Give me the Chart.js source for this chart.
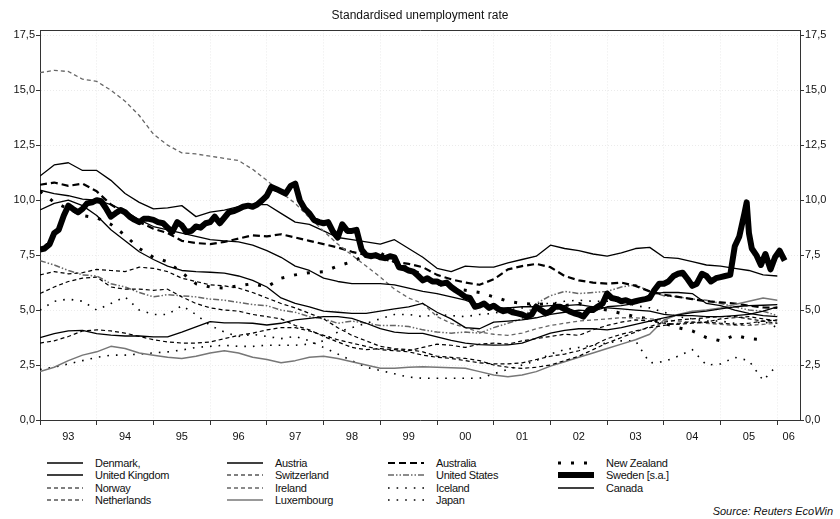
<!DOCTYPE html>
<html>
<head>
<meta charset="utf-8">
<title>Standardised unemployment rate</title>
<script src="https://cdn.jsdelivr.net/npm/chart.js@4.4.1/dist/chart.umd.min.js"></script>
<style>
  body { margin: 0; background: #fff; font-family: "Liberation Sans", Arial, sans-serif; }
  #wrap { position: relative; width: 840px; height: 519px; overflow: hidden; }
  #chart-box { position: absolute; left: 0; top: 0; width: 840px; height: 444px; }
  #legend .item { position: absolute; height: 12px; font-size: 11px; line-height: 12px; letter-spacing: -0.3px; color: #111; white-space: nowrap; }
  #legend svg { position: absolute; left: 0; top: 0; }
  #legend span { position: absolute; left: 48px; top: 0; }
  #source { position: absolute; right: 7px; top: 505px; font-size: 11px; font-style: italic; color: #111; }
</style>
</head>
<body>
<div id="wrap">
  <div id="chart-box"><canvas id="unemployment-chart"></canvas></div>
  <div id="legend"></div>
  <div id="source">Source: Reuters EcoWin</div>
</div>
<script>
/*
 * Standardised unemployment rate, 1993-2006
 */
const yearLabels = ['93', '94', '95', '96', '97', '98', '99', '00', '01', '02', '03', '04', '05', '06']
const yearStarts = [1993, 1994, 1995, 1996, 1997, 1998, 1999, 2000, 2001, 2002, 2003, 2004, 2005, 2006]
const yTickValues = [0, 2.5, 5, 7.5, 10, 12.5, 15, 17.5]
const yTickLabels = ['0,0', '2,5', '5,0', '7,5', '10,0', '12,5', '15,0', '17,5']

// quarterly dates, 1993 Q1 .. 2006 Q2
const quarters = [
  1993.00, 1993.25, 1993.50, 1993.75, 1994.00, 1994.25, 1994.50, 1994.75,
  1995.00, 1995.25, 1995.50, 1995.75, 1996.00, 1996.25, 1996.50, 1996.75,
  1997.00, 1997.25, 1997.50, 1997.75, 1998.00, 1998.25, 1998.50, 1998.75,
  1999.00, 1999.25, 1999.50, 1999.75, 2000.00, 2000.25, 2000.50, 2000.75,
  2001.00, 2001.25, 2001.50, 2001.75, 2002.00, 2002.25, 2002.50, 2002.75,
  2003.00, 2003.25, 2003.50, 2003.75, 2004.00, 2004.25, 2004.50, 2004.75,
  2005.00, 2005.25, 2005.50, 2005.75, 2006.00, 2006.25
]

const denmark = [
  9.55, 9.85, 10.0, 9.75, 9.3, 8.65, 8.15, 7.65, 7.3, 7.0, 6.8, 6.75,
  6.72, 6.68, 6.55, 6.35, 6.05, 5.55, 5.3, 5.15, 4.95, 4.9, 4.85, 4.85,
  4.95, 5.05, 5.15, 5.3, 4.9, 4.6, 4.2, 4.15, 4.45, 4.5, 4.55, 4.65,
  4.8, 4.9, 5.0, 4.95, 5.15, 5.2, 5.3, 5.7, 5.8, 5.8, 5.75, 5.3,
  5.2, 5.0, 4.85, 4.75, 4.7, null
]
const unitedKingdom = [
  10.45, 10.3, 10.2, 10.05, 10.0, 9.8, 9.5, 9.1, 8.8, 8.65, 8.5, 8.35,
  8.2, 8.15, 8.1, 7.95, 7.7, 7.4, 7.0, 6.8, 6.45, 6.3, 6.2, 6.2,
  6.2, 6.15, 6.0, 5.85, 5.75, 5.6, 5.45, 5.2, 5.1, 5.1, 5.15, 5.15,
  5.2, 5.2, 5.25, 5.15, 5.1, 5.05, 5.0, 4.95, 4.8, 4.75, 4.75, 4.7,
  4.7, 4.75, 4.8, 4.95, 5.15, null
]
const norway = [
  5.75, 6.05, 6.3, 6.45, 6.5, 6.05, 5.95, 5.95, 5.9, 5.95, 5.6, 5.3,
  5.1, 5.0, 4.95, 4.8, 4.7, 4.6, 4.3, 4.1, 3.8, 3.55, 3.3, 3.2,
  3.25, 3.2, 3.15, 3.3, 3.45, 3.4, 3.3, 3.45, 3.5, 3.45, 3.6, 3.7,
  3.8, 3.9, 3.85, 4.1, 4.3, 4.45, 4.55, 4.5, 4.4, 4.35, 4.4, 4.45,
  4.6, 4.65, 4.7, 4.6, 4.5, null
]
const netherlands = [
  6.6, 6.75, 6.65, 6.7, 6.85, 6.8, 6.75, 6.95, 6.9, 6.75, 6.45, 6.3,
  6.15, 6.1, 6.0, 5.8, 5.55, 5.3, 5.1, 4.85, 4.6, 4.2, 3.85, 3.6,
  3.35, 3.25, 3.2, 3.1, 2.9, 2.85, 2.8, 2.7, 2.5, 2.4, 2.35, 2.4,
  2.5, 2.7, 2.9, 3.2, 3.5, 3.75, 4.0, 4.25, 4.45, 4.55, 4.6, 4.65,
  4.7, 4.7, 4.6, 4.5, 4.4, null
]
const austria = [
  3.75, 3.93, 4.05, 4.08, 3.93, 3.86, 3.82, 3.82, 3.78, 3.78, 4.0, 4.24,
  4.47, 4.42, 4.42, 4.4, 4.32, 4.4, 4.55, 4.62, 4.7, 4.7, 4.62, 4.4,
  4.16, 4.0, 3.94, 3.94, 3.78, 3.62, 3.5, 3.43, 3.41, 3.42, 3.5, 3.72,
  3.95, 4.08, 4.15, 4.15, 4.1, 4.2, 4.35, 4.5, 4.65, 4.78, 4.88, 4.95,
  5.05, 5.15, 5.2, 5.22, 5.25, null
]
const switzerland = [
  3.5, 3.6, 3.8, 4.05, 4.1, 4.05, 3.95, 3.8, 3.65, 3.55, 3.5, 3.5,
  3.55, 3.7, 3.85, 3.95, 4.1, 4.2, 4.2, 4.05, 3.85, 3.65, 3.5, 3.35,
  3.2, 3.15, 3.1, 2.95, 2.85, 2.8, 2.7, 2.6, 2.55, 2.55, 2.6, 2.75,
  2.9, 3.0, 3.15, 3.4, 3.7, 3.9, 4.05, 4.2, 4.3, 4.4, 4.45, 4.45,
  4.4, 4.35, 4.4, 4.5, 4.55, null
]
const ireland = [
  15.8, 15.9, 15.85, 15.5, 15.4, 15.0, 14.5, 13.85, 13.0, 12.5, 12.15, 12.1,
  12.0, 11.9, 11.8, 11.4, 10.9, 10.35, 9.85, 9.2, 8.6, 8.0, 7.5, 7.0,
  6.5, 5.95, 5.55, 5.3, 4.7, 4.4, 4.2, 4.0, 3.9, 3.85, 3.95, 4.15,
  4.3, 4.4, 4.5, 4.55, 4.6, 4.65, 4.65, 4.6, 4.55, 4.5, 4.45, 4.4,
  4.35, 4.3, 4.3, 4.35, 4.4, null
]
const luxembourg = [
  2.2, 2.4, 2.7, 2.95, 3.1, 3.35, 3.25, 3.05, 2.95, 2.85, 2.8, 2.9,
  3.05, 3.15, 3.05, 2.85, 2.75, 2.6, 2.7, 2.85, 2.9, 2.8, 2.65, 2.5,
  2.35, 2.35, 2.4, 2.42, 2.4, 2.38, 2.35, 2.2, 2.05, 1.97, 2.05, 2.2,
  2.45, 2.65, 2.85, 3.05, 3.25, 3.45, 3.65, 3.9, 4.55, 4.8, 4.95, 5.0,
  5.1, 5.25, 5.4, 5.55, 5.45, null
]
const australia = [
  10.7, 10.8, 10.65, 10.75, 10.4, 9.8, 9.4, 9.0, 8.7, 8.5, 8.15, 8.05,
  8.0, 8.1, 8.25, 8.4, 8.35, 8.45, 8.3, 8.15, 8.0, 7.85, 7.65, 7.5,
  7.35, 7.2, 7.1, 6.95, 6.6, 6.4, 6.25, 6.15, 6.4, 6.85, 7.0, 7.1,
  6.95, 6.55, 6.35, 6.25, 6.2, 6.25, 6.1, 5.85, 5.7, 5.6, 5.5, 5.4,
  5.35, 5.3, 5.2, 5.12, 5.1, null
]
const unitedStates = [
  7.25, 7.05, 6.8, 6.6, 6.55, 6.2, 6.05, 5.8, 5.6, 5.7, 5.65, 5.6,
  5.5, 5.45, 5.35, 5.25, 5.2, 5.0, 4.9, 4.7, 4.6, 4.4, 4.5, 4.4,
  4.3, 4.3, 4.25, 4.1, 4.0, 3.95, 4.0, 3.95, 4.2, 4.4, 4.6, 5.3,
  5.65, 5.85, 5.75, 5.8, 5.85, 6.05, 6.15, 5.85, 5.65, 5.6, 5.5, 5.45,
  5.3, 5.15, 5.0, 4.95, 4.75, null
]
const iceland = [
  5.0, 5.4, 5.5, 5.4, 5.0, 5.3, 5.6, 5.0, 4.8, 4.8, 5.2, 4.8,
  4.3, 4.0, 3.8, 3.9, 3.8, 3.7, 3.8, 3.6, 3.3, 3.0, 2.7, 2.4,
  2.25, 2.1, 1.95, 1.9, 1.9, 1.9, 1.9, 1.9, 2.1, 2.3, 2.5, 2.7,
  3.0, 3.2, 3.3, 3.4, 3.5, 3.6, 3.6, 2.6, 2.65, 2.9, 3.2, 2.5,
  2.55, 2.85, 2.7, 1.8, 2.5, null
]
const japan = [
  2.3, 2.4, 2.55, 2.7, 2.85, 2.95, 2.95, 3.0, 3.05, 3.1, 3.18, 3.3,
  3.35, 3.4, 3.35, 3.35, 3.4, 3.4, 3.4, 3.45, 3.6, 4.0, 4.2, 4.4,
  4.6, 4.8, 4.8, 4.7, 4.8, 4.75, 4.7, 4.8, 4.85, 5.0, 5.1, 5.3,
  5.3, 5.4, 5.45, 5.4, 5.4, 5.4, 5.2, 5.1, 4.9, 4.7, 4.6, 4.5,
  4.5, 4.4, 4.3, 4.5, 4.2, null
]
const newZealand = [
  10.4, 9.9, 9.6, 9.3, 9.2, 8.9, 8.4, 7.8, 7.4, 7.2, 6.7, 6.2,
  6.05, 6.0, 6.1, 6.2, 6.05, 6.45, 6.6, 6.7, 6.75, 7.0, 7.2, 7.5,
  7.6, 7.2, 6.9, 6.6, 6.2, 6.0, 5.9, 5.8, 5.6, 5.4, 5.3, 5.25,
  5.3, 5.2, 5.3, 5.1, 5.0, 4.85, 4.7, 4.6, 4.4, 4.2, 4.05, 3.75,
  3.6, 3.85, 3.7, 3.65, null, null
]
const canada = [
  11.1, 11.6, 11.7, 11.35, 11.35, 10.9, 10.3, 9.9, 9.6, 9.65, 9.75, 9.25,
  9.45, 9.55, 9.7, 9.8, 9.8, 9.4, 9.0, 8.9, 8.6, 8.3, 8.2, 8.1,
  8.0, 8.2, 7.8, 7.4, 6.9, 6.75, 7.0, 6.95, 6.95, 7.15, 7.3, 7.45,
  7.95, 7.8, 7.7, 7.55, 7.45, 7.6, 7.8, 7.85, 7.4, 7.35, 7.2, 7.05,
  7.0, 6.9, 6.8, 6.6, 6.55, null
]

// Sweden is monthly, read at its own dates
const swedenDates = [
  1993.00, 1993.08, 1993.17, 1993.25, 1993.33, 1993.42, 1993.50, 1993.58, 1993.67, 1993.75, 1993.83, 1993.92,
  1994.00, 1994.08, 1994.17, 1994.25, 1994.33, 1994.42, 1994.50, 1994.58, 1994.67, 1994.75, 1994.83, 1994.92,
  1995.00, 1995.08, 1995.17, 1995.25, 1995.33, 1995.42, 1995.50, 1995.58, 1995.67, 1995.75, 1995.83, 1995.92,
  1996.00, 1996.08, 1996.17, 1996.25, 1996.33, 1996.42, 1996.50, 1996.58, 1996.67, 1996.75, 1996.83, 1996.92,
  1997.00, 1997.08, 1997.17, 1997.25, 1997.33, 1997.42, 1997.50, 1997.58, 1997.67, 1997.75, 1997.83, 1997.92,
  1998.00, 1998.08, 1998.17, 1998.25, 1998.33, 1998.42, 1998.50, 1998.58, 1998.67, 1998.75, 1998.83, 1998.92,
  1999.00, 1999.08, 1999.17, 1999.25, 1999.33, 1999.42, 1999.50, 1999.58, 1999.67, 1999.75, 1999.83, 1999.92,
  2000.00, 2000.08, 2000.17, 2000.25, 2000.33, 2000.42, 2000.50, 2000.58, 2000.67, 2000.75, 2000.83, 2000.92,
  2001.00, 2001.08, 2001.17, 2001.25, 2001.33, 2001.42, 2001.50, 2001.58, 2001.67, 2001.75, 2001.83, 2001.92,
  2002.00, 2002.08, 2002.17, 2002.25, 2002.33, 2002.42, 2002.50, 2002.58, 2002.67, 2002.75, 2002.83, 2002.92,
  2003.00, 2003.08, 2003.17, 2003.25, 2003.33, 2003.42, 2003.50, 2003.58, 2003.67, 2003.75, 2003.83, 2003.92,
  2004.00, 2004.08, 2004.17, 2004.25, 2004.33, 2004.42, 2004.50, 2004.58, 2004.67, 2004.75, 2004.83, 2004.92,
  2005.00, 2005.08, 2005.17, 2005.25, 2005.33, 2005.42, 2005.46, 2005.50, 2005.55, 2005.63, 2005.71, 2005.79,
  2005.88, 2005.96, 2006.04, 2006.13
]
const swedenRate = [
  7.75, 7.8, 8.0, 8.5, 8.65, 9.3, 9.75, 9.6, 9.45, 9.6, 9.85, 9.9,
  10.0, 9.95, 9.6, 9.25, 9.4, 9.55, 9.45, 9.25, 9.1, 9.0, 9.15, 9.15,
  9.1, 9.0, 8.95, 8.75, 8.55, 9.0, 8.85, 8.55, 8.6, 8.8, 8.75, 8.95,
  9.0, 9.25, 8.95, 9.2, 9.45, 9.5, 9.6, 9.7, 9.75, 9.7, 9.8, 10.0,
  10.2, 10.6, 10.5, 10.4, 10.3, 10.65, 10.75, 10.0, 9.6, 9.4, 9.1, 9.0,
  8.95, 9.0, 8.55, 8.3, 8.9, 8.6, 8.6, 8.65, 7.75, 7.5, 7.45, 7.5,
  7.4, 7.36, 7.45, 7.4, 6.95, 6.9, 6.8, 6.75, 6.55, 6.35, 6.45, 6.3,
  6.3, 6.2, 6.25, 6.05, 5.9, 5.75, 5.6, 5.55, 5.15, 5.2, 5.3, 5.1,
  5.2, 5.05, 4.95, 5.0, 4.9, 4.85, 4.8, 4.7, 4.8, 5.15, 5.0, 4.85,
  4.95, 5.15, 5.15, 5.05, 4.95, 4.85, 4.8, 4.7, 5.0, 5.0, 5.15, 5.3,
  5.75, 5.55, 5.5, 5.4, 5.45, 5.35, 5.4, 5.45, 5.5, 5.55, 5.9, 6.2,
  6.2, 6.3, 6.55, 6.65, 6.7, 6.4, 6.1, 6.2, 6.65, 6.55, 6.3, 6.45,
  6.5, 6.55, 6.6, 7.9, 8.35, 9.4, 9.9, 8.5, 7.8, 7.5, 7.05, 7.55,
  6.85, 7.4, 7.7, 7.25
]

const X_MIN = 1993
const X_MAX = 2006.4
const Y_MAX = 17.72   // box top sits a little above the 17,5 tick
const AXIS_COLOR = '#333'
const GRID_COLOR = '#ebebeb'

Chart.defaults.font.family = '"Liberation Sans", Arial, sans-serif'
Chart.defaults.color = '#111'

const quarterly = (values) => quarters.map((x, i) => ({ x: x, y: values[i] }))

// legend order, column by column
const series = [
  { label: 'Denmark,', data: quarterly(denmark), color: '#000', width: 1.3, dash: [] },
  { label: 'United Kingdom', data: quarterly(unitedKingdom), color: '#000', width: 1.3, dash: [] },
  { label: 'Norway', data: quarterly(norway), color: '#000', width: 1.2, dash: [4, 3] },
  { label: 'Netherlands', data: quarterly(netherlands), color: '#000', width: 1.2, dash: [4, 3] },
  { label: 'Austria', data: quarterly(austria), color: '#000', width: 1.3, dash: [] },
  { label: 'Switzerland', data: quarterly(switzerland), color: '#000', width: 1.2, dash: [4, 3] },
  { label: 'Ireland', data: quarterly(ireland), color: '#666', width: 1.3, dash: [4, 3] },
  { label: 'Luxembourg', data: quarterly(luxembourg), color: '#777', width: 1.5, dash: [] },
  { label: 'Australia', data: quarterly(australia), color: '#000', width: 2.2, dash: [7, 4] },
  { label: 'United States', data: quarterly(unitedStates), color: '#666', width: 1.5, dash: [6, 2, 1.5, 2, 1.5, 2] },
  { label: 'Iceland', data: quarterly(iceland), color: '#000', width: 1.6, dash: [1.6, 7] },
  { label: 'Japan', data: quarterly(japan), color: '#000', width: 1.6, dash: [1.6, 7] },
  { label: 'New Zealand', data: quarterly(newZealand), color: '#000', width: 3, dash: [3, 10] },
  { label: 'Sweden [s.a.]', data: swedenDates.map((x, i) => ({ x: x, y: swedenRate[i] })), color: '#000', width: 6, dash: [], legendWidth: 6, top: true },
  { label: 'Canada', data: quarterly(canada), color: '#000', width: 1.3, dash: [] }
]

const datasets = series.map(s => ({
  label: s.label,
  data: s.data,
  xAxisID: 'x',
  yAxisID: 'y',
  borderColor: s.color,
  borderWidth: s.width,
  borderDash: s.dash,
  borderCapStyle: 'butt',
  borderJoinStyle: 'round',
  pointRadius: 0,
  tension: 0,
  fill: false,
  order: s.top ? 0 : 1,
  legendWidth: s.legendWidth || s.width
}))

// year labels sit in the middle of each year
const labelPositions = yearStarts.map((y, i) => i < yearStarts.length - 1 ? y + 0.5 : (y + X_MAX) / 2)

const yTicks = {
  padding: 1,
  font: { size: 11 },
  callback: (value, index) => yTickLabels[index]
}

const config = {
  type: 'line',
  data: { datasets: datasets },
  options: {
    responsive: true,
    maintainAspectRatio: false,
    animation: false,
    layout: { padding: { top: 0, left: 0, right: 0, bottom: 1 } },
    plugins: {
      legend: { display: false },
      tooltip: { enabled: false },
      title: {
        display: true,
        text: 'Standardised unemployment rate',
        font: { size: 12, weight: 'normal' },
        color: '#111',
        padding: { top: 8, bottom: 8 }
      }
    },
    scales: {
      x: {
        type: 'linear',
        position: 'bottom',
        weight: 0,
        min: X_MIN,
        max: X_MAX,
        afterBuildTicks: scale => { scale.ticks = yearStarts.map(v => ({ value: v })) },
        afterFit: scale => { scale.height = 5 },
        ticks: { display: false },
        grid: { color: GRID_COLOR, tickLength: 5, tickColor: AXIS_COLOR, tickWidth: 1 },
        border: { color: AXIS_COLOR, width: 1, dash: [1, 2] }
      },
      xLabels: {
        type: 'linear',
        position: 'bottom',
        weight: 1,
        min: X_MIN,
        max: X_MAX,
        afterBuildTicks: scale => { scale.ticks = labelPositions.map(v => ({ value: v })) },
        afterFit: scale => { scale.height = 18 },
        ticks: {
          autoSkip: false,
          maxRotation: 0,
          padding: 5,
          font: { size: 11 },
          callback: (value, index) => yearLabels[index]
        },
        grid: { display: false, drawTicks: false },
        border: { display: false }
      },
      xTop: {
        type: 'linear',
        position: 'top',
        min: X_MIN,
        max: X_MAX,
        ticks: { display: false },
        grid: { display: false, drawTicks: false },
        border: { color: AXIS_COLOR, width: 1 }
      },
      y: {
        position: 'left',
        min: 0,
        max: Y_MAX,
        afterBuildTicks: scale => { scale.ticks = yTickValues.map(v => ({ value: v })) },
        afterFit: scale => { scale.width = 40 },
        ticks: yTicks,
        grid: { color: GRID_COLOR, tickLength: 4, tickColor: AXIS_COLOR },
        border: { color: AXIS_COLOR, width: 1, dash: [1, 2] }
      },
      y2: {
        position: 'right',
        min: 0,
        max: Y_MAX,
        afterBuildTicks: scale => { scale.ticks = yTickValues.map(v => ({ value: v })) },
        afterFit: scale => { scale.width = 40 },
        ticks: yTicks,
        grid: { drawOnChartArea: false, tickLength: 4, tickColor: AXIS_COLOR },
        border: { color: AXIS_COLOR, width: 1 }
      }
    }
  }
}

const chart = new Chart(document.getElementById('unemployment-chart'), config)

/*
 * HTML legend, four columns filled top to bottom
 */
const legendCols = [47, 227, 388, 558]
const legendRows = [463, 475, 488, 500]
const legendBox = document.getElementById('legend')

chart.data.datasets.forEach((ds, i) => {
  const item = document.createElement('div')
  item.className = 'item'
  item.style.left = legendCols[Math.floor(i / 4)] + 'px'
  item.style.top = (legendRows[i % 4] - 6) + 'px'

  const dash = ds.borderDash.length ? ` stroke-dasharray="${ds.borderDash.join(' ')}"` : ''
  item.innerHTML =
    `<svg width="36" height="12"><line x1="0" y1="6" x2="36" y2="6" stroke="${ds.borderColor}"` +
    ` stroke-width="${ds.legendWidth}"${dash}/></svg><span>${ds.label}</span>`
  legendBox.appendChild(item)
})
</script>
</body>
</html>
